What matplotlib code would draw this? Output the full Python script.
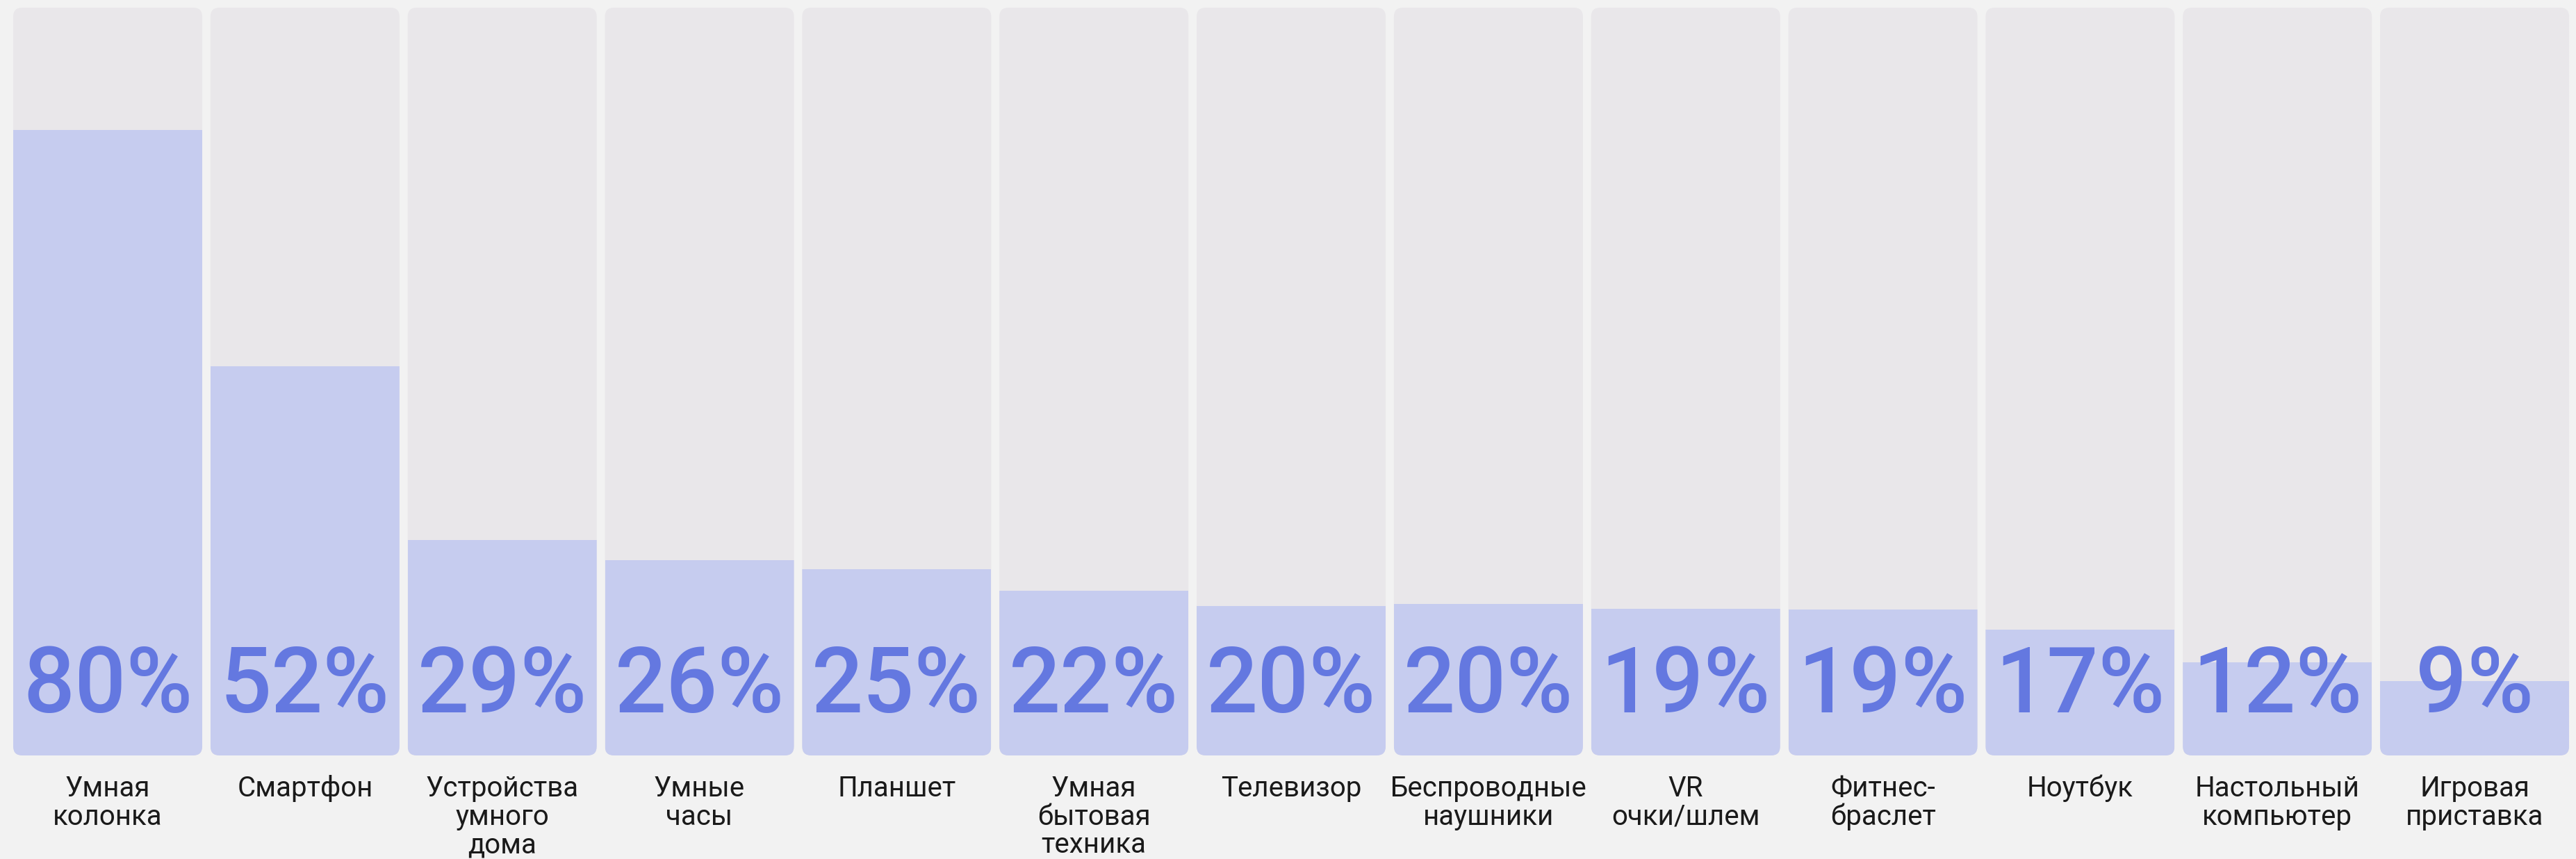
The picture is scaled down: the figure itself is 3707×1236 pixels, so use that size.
import matplotlib.pyplot as plt
from matplotlib.patches import FancyBboxPatch
import numpy as np

# данные
categories = ['Умная\nколонка', 'Смартфон', 'Устройства\nумного\nдома', 'Умные\nчасы',
              'Планшет', 'Умная\nбытовая\nтехника', 'Телевизор', 'Беспроводные\nнаушники',
              'VR\nочки/шлем', 'Фитнес-\nбраслет', 'Ноутбук', 'Настольный\nкомпьютер',
              'Игровая\nприставка']
pct_labels = [80, 52, 29, 26, 25, 22, 20, 20, 19, 19, 17, 12, 9]
# высота заливки, как она нарисована на картинке (доля от 100)
fill_share = [83.6, 52.0, 28.8, 26.1, 24.9, 22.0, 20.0, 20.3, 19.6, 19.5, 16.8, 12.5, 9.9]
full_scale = 100

BG = '#F2F2F2'
BAR_BG = '#E9E7EA'
FILL = '#C6CCEF'
PCT = '#6478E0'
LABEL = '#1A1A1A'

plt.rcParams['font.family'] = ['Roboto', 'DejaVu Sans']

W, H = 3707, 1236
fig = plt.figure(figsize=(W / 100, H / 100), dpi=100, facecolor=BG)
ax = fig.add_axes([13.1 / W, (H - 1087) / H, (3703 - 13.1) / W, (1087 - 11) / H])
ax.set_facecolor(BG)
ax.set_xlim(-0.5, len(categories) - 0.5)
ax.set_ylim(0, full_scale)
ax.axis('off')

x = np.arange(len(categories))
width = 272 / 283.8
# пиксели на единицу по осям, чтобы скругление было круглым
px_x = 283.8
px_y = (1087 - 11) / full_scale
radius = 13 / px_x
aspect = px_x / px_y

bars = ax.bar(x, fill_share, width=width, color=FILL, zorder=2)
for xi, b in zip(x, bars):
    bg = FancyBboxPatch((xi - width / 2, 0), width, full_scale,
                        boxstyle=f'round,pad=0,rounding_size={radius}',
                        mutation_aspect=aspect, facecolor=BAR_BG, edgecolor='none', zorder=1)
    ax.add_patch(bg)
    b.set_clip_path(bg)

for xi, p in zip(x, pct_labels):
    ax.text(xi, 5.8, f'{p}%', ha='center', va='baseline', fontsize=94,
            fontweight='medium', color=PCT, zorder=3)

for xi, c in zip(x, categories):
    ax.text(xi, -2.6, c, ha='center', va='top', fontsize=29, color=LABEL,
            linespacing=1.05, clip_on=False)

fig.savefig('out.png', dpi=100, facecolor=BG)
